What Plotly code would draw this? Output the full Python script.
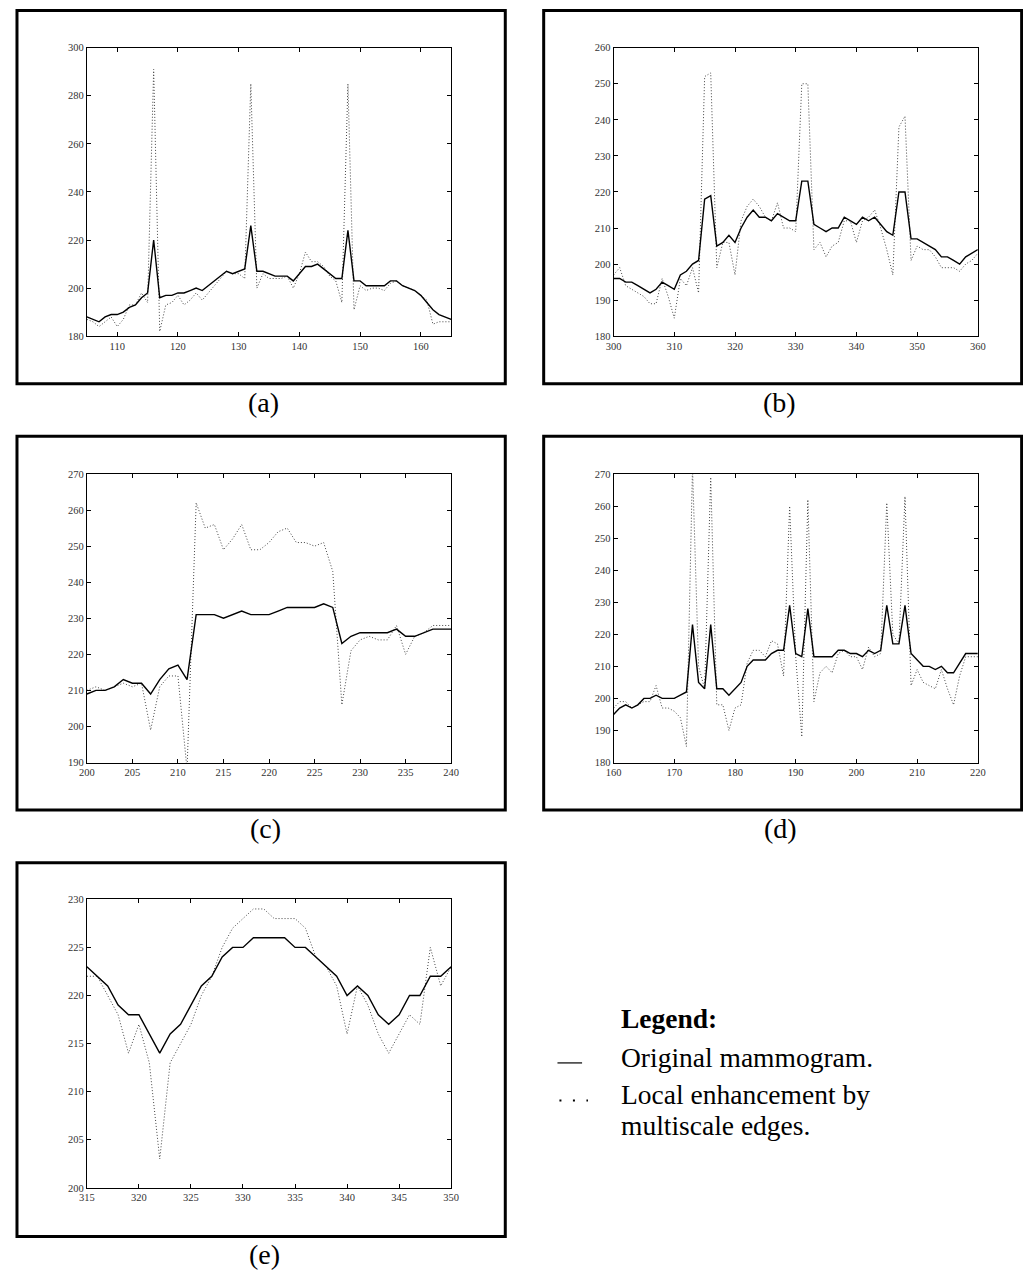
import plotly.graph_objects as go

W, H = 1031, 1283
PAGE_MARGIN = 8  # default body margin of the html page

# ---------------- data ----------------
a_x = list(range(105, 166))
a_orig = [188, 187, 186, 188, 189, 189, 190, 192, 193, 196, 198, 220, 196, 197, 197, 198,
          198, 199, 200, 199, 201, 203, 205, 207, 206, 207, 208, 226, 207, 207, 206, 205,
          205, 205, 203, 206, 209, 209, 210, 208, 206, 204, 204, 224, 203, 203, 201, 201,
          201, 201, 203, 203, 201, 200, 199, 197, 194, 191, 189, 188, 187]
a_enh = [187, 186, 184, 186, 188, 184, 187, 193, 193, 198, 194, 291, 182, 193, 194, 197,
         193, 195, 198, 195, 198, 201, 204, 207, 206, 206, 204, 285, 200, 206, 204, 204,
         204, 205, 200, 206, 215, 211, 211, 209, 205, 203, 194, 285, 191, 201, 199, 200,
         200, 199, 202, 203, 201, 200, 199, 197, 195, 185, 186, 186, 186]

b_x = list(range(300, 361))
b_orig = [196, 196, 195, 195, 194, 193, 192, 193, 195, 194, 193, 197, 198, 200, 201, 218,
          219, 205, 206, 208, 206, 210, 213, 215, 213, 213, 212, 214, 213, 212, 212, 223,
          223, 211, 210, 209, 210, 210, 213, 212, 211, 213, 212, 213, 211, 209, 208, 220,
          220, 207, 207, 206, 205, 204, 202, 202, 201, 200, 202, 203, 204]
b_enh = [197, 199, 194, 193, 192, 191, 189, 189, 196, 191, 185, 196, 194, 199, 192, 252,
         253, 199, 206, 206, 197, 212, 216, 218, 216, 213, 212, 217, 210, 210, 209, 250,
         250, 204, 206, 202, 205, 206, 212, 212, 206, 212, 213, 215, 210, 204, 197, 238,
         241, 201, 205, 204, 204, 202, 199, 199, 199, 198, 200, 201, 203]

c_x = list(range(200, 241))
c_orig = [209, 210, 210, 211, 213, 212, 212, 209, 213, 216, 217, 213, 231, 231, 231, 230,
          231, 232, 231, 231, 231, 232, 233, 233, 233, 233, 234, 233, 223, 225, 226, 226,
          226, 226, 227, 225, 225, 226, 227, 227, 227]
c_enh = [210, 211, 210, 211, 212, 211, 212, 199, 211, 214, 214, 188, 262, 255, 256, 249,
         252, 256, 249, 249, 251, 254, 255, 251, 251, 250, 251, 243, 206, 221, 224, 225,
         224, 224, 228, 220, 225, 226, 228, 228, 228]

d_x = list(range(160, 221))
d_orig = [195, 197, 198, 197, 198, 200, 200, 201, 200, 200, 200, 201, 202, 223, 205, 203,
          223, 203, 203, 201, 203, 205, 210, 212, 212, 212, 214, 215, 215, 229, 214, 213,
          228, 213, 213, 213, 213, 215, 215, 214, 214, 213, 215, 214, 215, 229, 217, 217,
          229, 214, 212, 210, 210, 209, 210, 208, 208, 211, 214, 214, 214]
d_enh = [197, 199, 199, 197, 198, 199, 199, 204, 197, 197, 196, 194, 185, 272, 210, 203,
         269, 198, 198, 190, 197, 198, 211, 215, 215, 213, 218, 217, 207, 260, 213, 188,
         262, 199, 208, 210, 208, 214, 215, 213, 213, 209, 216, 213, 214, 261, 220, 217,
         263, 204, 209, 205, 204, 203, 209, 203, 198, 207, 213, 213, 213]

e_x = list(range(315, 351))
e_orig = [223, 222, 221, 219, 218, 218, 216, 214, 216, 217, 219, 221, 222, 224, 225, 225,
          226, 226, 226, 226, 225, 225, 224, 223, 222, 220, 221, 220, 218, 217, 218, 220,
          220, 222, 222, 223]
e_enh = [222, 222, 220, 218, 214, 217, 213, 203, 213, 215, 217, 220, 222, 225, 227, 228,
         229, 229, 228, 228, 228, 227, 224, 223, 221, 216, 221, 219, 216, 214, 216, 218,
         217, 225, 221, 223]

panel_labels = ["(a)", "(b)", "(c)", "(d)", "(e)"]
x_ranges = [[105, 165], [300, 360], [200, 240], [160, 220], [315, 350]]
y_ranges = [[180, 300], [180, 260], [190, 270], [180, 270], [200, 230]]
x_dticks = [10, 10, 5, 10, 5]
y_dticks = [20, 10, 10, 10, 5]

legend_title = "Legend:"
legend_lines = ["Original mammogram.", "Local enhancement by", "multiscale edges."]

# ---------------- layout geometry (screen pixels) ----------------
plots_px = [  # x0, x1, y_top, y_bottom
    (80, 450, 43, 334),
    (615, 985, 43, 334),
    (80, 450, 473, 764),
    (615, 985, 473, 764),
    (80, 450, 902, 1193),
]
boxes_px = [
    (9, 505, 5.5, 382),
    (544, 1029.5, 5.5, 382),
    (9, 505, 435, 812),
    (544, 1029.5, 435, 812),
    (9, 505, 865, 1242),
]
caption_px = [(259, 401), (784, 401), (261, 831), (785, 831), (260, 1260)]


def px(x):
    return (x - PAGE_MARGIN) / W


def py(y):
    return 1 - (y - PAGE_MARGIN) / H


series = [
    (a_x, a_orig, a_enh),
    (b_x, b_orig, b_enh),
    (c_x, c_orig, c_enh),
    (d_x, d_orig, d_enh),
    (e_x, e_orig, e_enh),
]

fig = go.Figure()
layout = dict(
    width=W, height=H,
    margin=dict(l=0, r=0, t=0, b=0),
    paper_bgcolor="white", plot_bgcolor="white",
    showlegend=False,
    shapes=[], annotations=[],
)

tick_font = dict(family="Liberation Serif, Times New Roman, serif", size=10.5, color="#333")
caption_font = dict(family="Liberation Serif, serif", size=28, color="black")
text_font = dict(family="Liberation Serif, serif", size=27.5, color="black")

for i, (xs, orig, enh) in enumerate(series):
    n = i + 1
    xa = "x" if n == 1 else f"x{n}"
    ya = "y" if n == 1 else f"y{n}"
    fig.add_trace(go.Scatter(x=xs, y=enh, mode="lines", xaxis=xa, yaxis=ya,
                             line=dict(color="#444", width=1, dash="1px,2px")))
    fig.add_trace(go.Scatter(x=xs, y=orig, mode="lines", xaxis=xa, yaxis=ya,
                             line=dict(color="black", width=1.4)))
    x0, x1, yt, yb = plots_px[i]
    axis_common = dict(showgrid=False, zeroline=False, showline=True, linecolor="black",
                       linewidth=1, mirror="ticks", ticks="inside", ticklen=4,
                       tickcolor="black", tickwidth=1, tickfont=tick_font)
    layout["xaxis" if n == 1 else f"xaxis{n}"] = dict(
        domain=[px(x0), px(x1)], range=x_ranges[i], dtick=x_dticks[i], tick0=0,
        anchor=ya, **axis_common)
    layout["yaxis" if n == 1 else f"yaxis{n}"] = dict(
        domain=[py(yb), py(yt)], range=y_ranges[i], dtick=y_dticks[i], tick0=0,
        anchor=xa, **axis_common)
    bx0, bx1, by0, by1 = boxes_px[i]
    layout["shapes"].append(dict(type="rect", xref="paper", yref="paper",
                                 x0=px(bx0), x1=px(bx1), y0=py(by1), y1=py(by0),
                                 line=dict(color="black", width=3), fillcolor="rgba(0,0,0,0)"))
    cx, cy = caption_px[i]
    layout["annotations"].append(dict(text=panel_labels[i], xref="paper", yref="paper",
                                      x=px(cx), y=py(cy), showarrow=False,
                                      xanchor="center", yanchor="middle", font=caption_font))

# legend block
legend_text_pos = [(621, 1022.5, "<b>" + legend_title + "</b>"),
                   (621, 1061.5, legend_lines[0]),
                   (621, 1098.5, legend_lines[1]),
                   (621, 1130, legend_lines[2])]
for lx, ly, txt in legend_text_pos:
    layout["annotations"].append(dict(text=txt, xref="paper", yref="paper",
                                      x=px(lx), y=py(ly), showarrow=False, xanchor="left",
                                      yanchor="middle", font=text_font))
# solid sample
layout["shapes"].append(dict(type="line", xref="paper", yref="paper",
                             x0=px(558), x1=px(583), y0=py(1067), y1=py(1067),
                             line=dict(color="black", width=1.2)))
# dotted sample (three dots)
layout["shapes"].append(dict(type="line", xref="paper", yref="paper",
                             x0=px(560), x1=px(589), y0=py(1105), y1=py(1105),
                             line=dict(color="black", width=2, dash="2px,11.5px")))

fig.update_layout(**layout)
fig.write_html("out.html")
